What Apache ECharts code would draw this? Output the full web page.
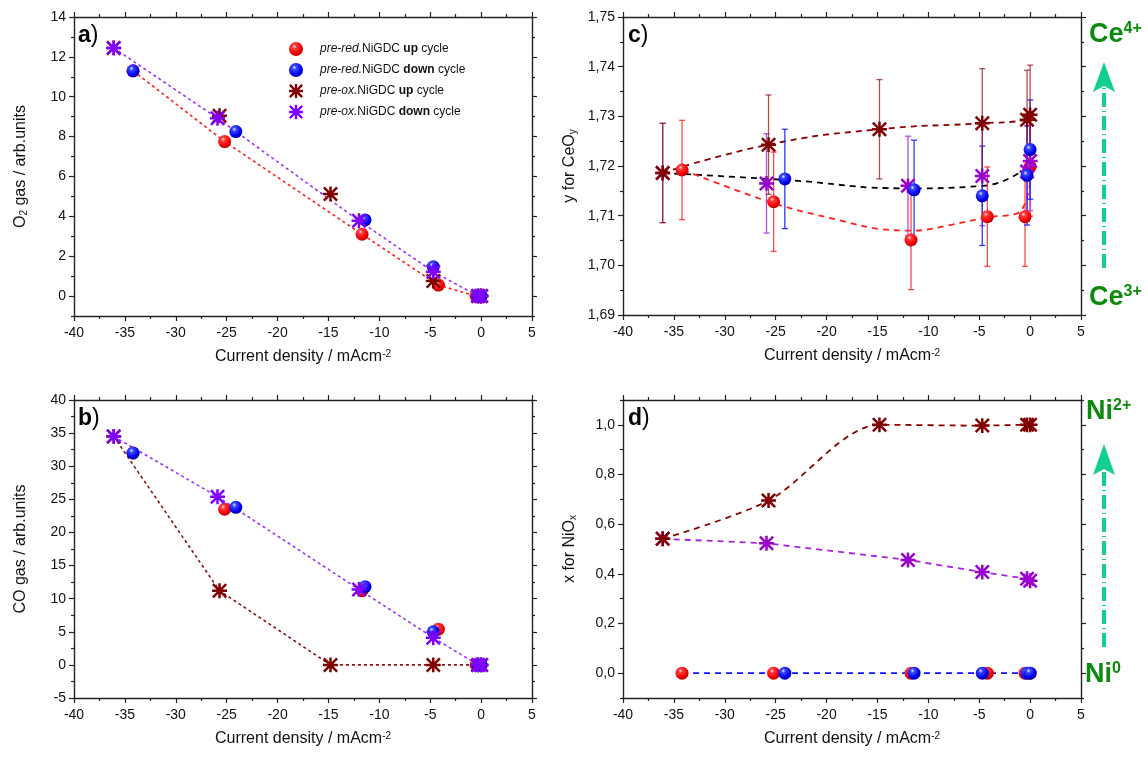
<!DOCTYPE html>
<html><head><meta charset="utf-8">
<script src="https://cdn.jsdelivr.net/npm/echarts@6/dist/echarts.min.js"></script>
<style>html,body{margin:0;padding:0;background:#fff}#chart{width:1148px;height:758px}</style>
</head><body><div id="chart"></div>
<script>
// ---------------- data ----------------
const xTicks = [-40, -35, -30, -25, -20, -15, -10, -5, 0, 5];
const xMinor = [-37.5, -32.5, -27.5, -22.5, -17.5, -12.5, -7.5, -2.5, 2.5];

// current density of every measured point (mA cm^-2)
const redX    = [0, -0.5, -4.2, -11.7, -25.2, -34.2];
const blueX   = [-34.2, -24.1, -11.4, -4.7, -0.3, 0];
const brownX  = [0, -0.3, -4.7, -14.8, -25.7, -36.1];
const purpleX = [-36.1, -25.9, -12.0, -4.7, -0.3, 0];

// a) O2 gas
const aRedY    = [0, 0, 0.55, 3.1, 7.75, 11.3];
const aBlueY   = [11.3, 8.25, 3.82, 1.47, 0, 0];
const aBrownY  = [0, 0, 0.75, 5.12, 9.05, 12.45];
const aPurpleY = [12.45, 8.92, 3.78, 1.22, 0, 0];
const aYTicks = [0, 2, 4, 6, 8, 10, 12, 14];
const aYMinor = [-1, 1, 3, 5, 7, 9, 11, 13];

// b) CO gas
const bRedY    = [0, 0, 5.4, 11.2, 23.5, 32.0];
const bBlueY   = [32.0, 23.8, 11.8, 5.0, 0, 0];
const bBrownY  = [0, 0, 0, 0, 11.2, 34.5];
const bPurpleY = [34.5, 25.4, 11.4, 4.1, 0, 0];
const bYTicks = [-5, 0, 5, 10, 15, 20, 25, 30, 35, 40];
const bYMinor = [-2.5, 2.5, 7.5, 12.5, 17.5, 22.5, 27.5, 32.5, 37.5];

// c) y for CeOy (with error bars)
const cRedY    = [1.7199, 1.7098, 1.7098, 1.7051, 1.7128, 1.7192];
const cRedErr  = [0.01, 0.01, 0.01, 0.01, 0.01, 0.01];
const cBlueY   = [null, 1.7174, 1.7152, 1.7140, 1.7181, 1.7233];
const cBlueErr = [0.01, 0.01, 0.01, 0.01, 0.01, 0.01];
const cBrownY  = [1.7303, 1.7293, 1.7286, 1.7274, 1.7243, 1.7186];
const cBrownErr = [0.01, 0.01, 0.011, 0.01, 0.01, 0.01];
const cPurpleY = [1.7186, 1.7165, 1.7160, 1.7180, 1.7189, 1.7210];
const cPurpleErr = [0.01, 0.01, 0.01, 0.01, 0.01, 0.01];
const cBlackX = [-36.05, -24.13, -11.94, -4.62, -0.05];
const cBlackY = [1.7186, 1.7172, 1.7155, 1.7160, 1.7201];
const cRedTrendX = [-34.1, -25.2, -18.2, -14.75, -11.3, -7.9, -4.2, -1.0, 0.2];
const cRedTrendY = [1.7192, 1.7125, 1.7088, 1.7073, 1.7070, 1.7081, 1.7097, 1.7108, 1.7196];
const cYTicks = [1.69, 1.70, 1.71, 1.72, 1.73, 1.74, 1.75];
const cYMinor = [1.695, 1.705, 1.715, 1.725, 1.735, 1.745];

// d) x for NiOx
const dRedY    = [0, 0, 0, 0, 0, 0];
const dBlueY   = [null, 0, 0, 0, 0, 0];
const dBrownY  = [1.0, 1.0, 0.997, 1.0, 0.695, 0.541];
const dPurpleY = [0.541, 0.523, 0.456, 0.407, 0.38, 0.372];
const dYTicks = [0, 0.2, 0.4, 0.6, 0.8, 1.0];
const dYMinor = [-0.1, 0.1, 0.3, 0.5, 0.7, 0.9, 1.1];

const seriesNames = ['pre-red.NiGDC up cycle', 'pre-red.NiGDC down cycle', 'pre-ox.NiGDC up cycle', 'pre-ox.NiGDC down cycle'];
const legendRich = {
  'pre-red.NiGDC up cycle': '{i|pre-red.}{n|NiGDC }{b|up}{n| cycle}',
  'pre-red.NiGDC down cycle': '{i|pre-red.}{n|NiGDC }{b|down}{n| cycle}',
  'pre-ox.NiGDC up cycle': '{i|pre-ox.}{n|NiGDC }{b|up}{n| cycle}',
  'pre-ox.NiGDC down cycle': '{i|pre-ox.}{n|NiGDC }{b|down}{n| cycle}'
};

// ---------------- styles ----------------
const FONT = '"Liberation Sans", Arial, Helvetica, sans-serif';
const AX = '#222';
const RED = '#ff0000', BLUE = '#0000ff', BROWN = '#800000', PURPLE_AB = '#8000ff', PURPLE_CD = '#9900cc';
const ballRed = new echarts.graphic.RadialGradient(0.38, 0.32, 0.72, [
  {offset: 0, color: '#ffe4e4'}, {offset: 0.22, color: '#ff3a3a'}, {offset: 0.7, color: '#f40000'}, {offset: 1, color: '#b00000'}]);
const ballBlue = new echarts.graphic.RadialGradient(0.38, 0.32, 0.72, [
  {offset: 0, color: '#e4e8ff'}, {offset: 0.22, color: '#3a48ff'}, {offset: 0.7, color: '#0000ee'}, {offset: 1, color: '#000099'}]);
const ASTER = 'path://M1 8.5H19V11.5H1Z M8.5 1H11.5V19H8.5Z M3.06 0.94L19.06 16.94L16.94 19.06L0.94 3.06Z M19.06 3.06L3.06 19.06L0.94 16.94L16.94 0.94Z';

const panels = [
  {grid: {left: 74, top: 17, width: 458, height: 299}, yMin: -1, yMax: 14, yTicks: aYTicks, yMinor: aYMinor,
   fmt: v => String(v), yName: 'O{sub|2} gas / arb.units', tag: 'a', tagPos: [78, 24]},
  {grid: {left: 74, top: 400, width: 458, height: 298}, yMin: -5, yMax: 40, yTicks: bYTicks, yMinor: bYMinor,
   fmt: v => String(v), yName: 'CO gas / arb.units', tag: 'b', tagPos: [78, 407]},
  {grid: {left: 623, top: 17, width: 458, height: 298}, yMin: 1.69, yMax: 1.75, yTicks: cYTicks, yMinor: cYMinor,
   fmt: v => v.toFixed(2).replace('.', ','), yName: 'y for CeO{sub|y}', tag: 'c', tagPos: [628, 24]},
  {grid: {left: 623, top: 400, width: 458, height: 298}, yMin: -0.1, yMax: 1.1, yTicks: dYTicks, yMinor: dYMinor,
   fmt: v => v.toFixed(1).replace('.', ','), yName: 'x for NiO{sub|x}', tag: 'd', tagPos: [628, 407]}
];

const grids = [], xAxes = [], yAxes = [];
const lbl = {color: '#111', fontFamily: FONT, fontSize: 14};
panels.forEach((p, gi) => {
  grids.push(Object.assign({outerBoundsMode: 'none', containLabel: false}, p.grid));
  const mk = (dim, pos, vals, len, main, showLine) => {
    const o = {
      type: 'value', gridIndex: gi, position: pos,
      min: dim === 'x' ? -40 : p.yMin, max: dim === 'x' ? 5 : p.yMax,
      axisLine: {show: showLine, onZero: false, lineStyle: {color: AX, width: 1.4}},
      axisTick: {show: true, inside: false, length: len, customValues: vals, lineStyle: {color: AX, width: 1.2}},
      axisLabel: {show: main, customValues: vals, margin: dim === 'x' ? 10 : 8, ...lbl,
        formatter: dim === 'x' ? (v => String(v)) : p.fmt},
      splitLine: {show: false}, minorTick: {show: false}, silent: true
    };
    if (main && dim === 'x') {
      o.name = 'Current density / mAcm{sup|-2}';
      o.nameLocation = 'middle'; o.nameGap = 33;
      o.nameTextStyle = {fontFamily: FONT, fontSize: 16, color: '#111',
        rich: {sup: {fontFamily: FONT, fontSize: 10, color: '#111', verticalAlign: 'top', padding: [0, 0, 5, 0]}}};
    }
    if (main && dim === 'y') {
      o.name = p.yName; o.nameLocation = 'middle'; o.nameGap = 45; o.nameRotate = 90;
      o.nameTextStyle = {fontFamily: FONT, fontSize: 16, color: '#111',
        rich: {sub: {fontFamily: FONT, fontSize: 10, color: '#111', verticalAlign: 'bottom', padding: [6, 0, 0, 0]}}};
    }
    return o;
  };
  xAxes.push(mk('x', 'bottom', xTicks, 5, true, true));
  xAxes.push(mk('x', 'bottom', xMinor, 3, false, false));
  xAxes.push(mk('x', 'top', xTicks, 5, false, true));
  xAxes.push(mk('x', 'top', xMinor, 3, false, false));
  yAxes.push(mk('y', 'left', p.yTicks, 5, true, true));
  yAxes.push(mk('y', 'left', p.yMinor, 3, false, false));
  yAxes.push(mk('y', 'right', p.yTicks, 5, false, true));
  yAxes.push(mk('y', 'right', p.yMinor, 3, false, false));
});

const series = [];
const pairs = (X, Y) => X.map((x, i) => [x, Y[i]]).filter(d => d[1] !== null);
function scatter(gi, name, X, Y, kind, color) {
  const ball = kind === 'ball';
  series.push({
    type: 'scatter', name, xAxisIndex: gi * 4, yAxisIndex: gi * 4,
    data: pairs(X, Y), symbol: ball ? 'circle' : ASTER, symbolSize: ball ? 13 : 15,
    itemStyle: {color: ball ? (color === RED ? ballRed : ballBlue) : color, opacity: 1},
    z: 10, silent: true
  });
}
function line(gi, X, Y, color, dash, width, smooth) {
  const d = pairs(X, Y).sort((u, v) => u[0] - v[0]);
  series.push({
    type: 'line', name: '_line', xAxisIndex: gi * 4, yAxisIndex: gi * 4, data: d,
    showSymbol: false, symbol: 'none', smooth: smooth,
    lineStyle: {color, type: dash, width}, z: 4, silent: true
  });
}
function errbars(gi, X, Y, E, color) {
  const d = X.map((x, i) => [x, Y[i], E[i]]).filter(v => v[1] !== null);
  series.push({
    type: 'custom', name: '_err', xAxisIndex: gi * 4, yAxisIndex: gi * 4, data: d,
    encode: {x: 0, y: 1}, z: 6, silent: true,
    renderItem: (params, api) => {
      const x = api.value(0), y = api.value(1), e = api.value(2);
      const t = api.coord([x, y + e]), b = api.coord([x, y - e]);
      const w = 3, st = {stroke: color, lineWidth: 1.3, fill: null};
      return {type: 'group', children: [
        {type: 'line', shape: {x1: t[0], y1: t[1], x2: b[0], y2: b[1]}, style: st},
        {type: 'line', shape: {x1: t[0] - w, y1: t[1], x2: t[0] + w, y2: t[1]}, style: st},
        {type: 'line', shape: {x1: b[0] - w, y1: b[1], x2: b[0] + w, y2: b[1]}, style: st}
      ]};
    }
  });
}
const DOT = [3, 3], DASH = [6, 5];

// a)
line(0, redX, aRedY, '#ff2020', DOT, 1.6, false);
line(0, purpleX, aPurpleY, '#9933ff', DOT, 1.6, false);
scatter(0, seriesNames[0], redX, aRedY, 'ball', RED);
scatter(0, seriesNames[2], brownX, aBrownY, 'ast', BROWN);
scatter(0, seriesNames[1], blueX, aBlueY, 'ball', BLUE);
scatter(0, seriesNames[3], purpleX, aPurpleY, 'ast', PURPLE_AB);
// b)
line(1, purpleX, bPurpleY, '#9933ff', DOT, 1.6, false);
line(1, brownX, bBrownY, '#8b1010', DOT, 1.6, false);
scatter(1, seriesNames[0], redX, bRedY, 'ball', RED);
scatter(1, seriesNames[2], brownX, bBrownY, 'ast', BROWN);
scatter(1, seriesNames[1], blueX, bBlueY, 'ball', BLUE);
scatter(1, seriesNames[3], purpleX, bPurpleY, 'ast', PURPLE_AB);
// c)
line(2, brownX, cBrownY, '#8b0000', DASH, 1.8, true);
line(2, cBlackX, cBlackY, '#000000', DASH, 1.8, true);
line(2, cRedTrendX, cRedTrendY, '#ff2020', DASH, 1.8, 0.35);
errbars(2, redX, cRedY, cRedErr, 'rgba(255,40,40,0.85)');
errbars(2, purpleX, cPurpleY, cPurpleErr, 'rgba(170,60,220,0.9)');
errbars(2, blueX, cBlueY, cBlueErr, 'rgba(30,30,255,0.9)');
errbars(2, brownX, cBrownY, cBrownErr, 'rgba(150,20,20,0.75)');
scatter(2, seriesNames[0], redX, cRedY, 'ball', RED);
scatter(2, seriesNames[3], purpleX, cPurpleY, 'ast', PURPLE_CD);
scatter(2, seriesNames[1], blueX, cBlueY, 'ball', BLUE);
scatter(2, seriesNames[2], brownX, cBrownY, 'ast', BROWN);
// d)
line(3, brownX, dBrownY, '#8b0000', DASH, 1.8, 0.3);
line(3, purpleX, dPurpleY, '#aa22dd', DASH, 1.8, false);
line(3, redX, dRedY, '#1010ff', DASH, 1.8, false);
scatter(3, seriesNames[0], redX, dRedY, 'ball', RED);
scatter(3, seriesNames[3], purpleX, dPurpleY, 'ast', PURPLE_CD);
scatter(3, seriesNames[1], blueX, dBlueY, 'ball', BLUE);
scatter(3, seriesNames[2], brownX, dBrownY, 'ast', BROWN);

// ---------------- annotations ----------------
const GREEN = '#0b8a0b', ARROW = '#12d08c';
const graphics = [];
panels.forEach(p => {
  graphics.push({type: 'text', x: p.tagPos[0], y: p.tagPos[1], z: 20, silent: true,
    style: {text: '{b|' + p.tag + '}{n|)}', rich: {
      b: {fontFamily: FONT, fontSize: 23, fontWeight: 'bold', fill: '#000'},
      n: {fontFamily: FONT, fontSize: 23, fill: '#000'}}}});
});
function ionLabel(x, y, base, sup) {
  graphics.push({type: 'text', x, y, z: 20, silent: true,
    style: {text: '{b|' + base + '}{s|' + sup + '}', rich: {
      b: {fontFamily: FONT, fontSize: 27, fontWeight: 'bold', fill: GREEN},
      s: {fontFamily: FONT, fontSize: 16, fontWeight: 'bold', fill: GREEN, verticalAlign: 'top'}}}});
}
ionLabel(1089, 21, 'Ce', '4+');
ionLabel(1089, 284, 'Ce', '3+');
ionLabel(1086, 398, 'Ni', '2+');
ionLabel(1085, 661, 'Ni', '0');
function arrow(cx, tip, base, bottom) {
  graphics.push({type: 'polygon', z: 20, silent: true,
    shape: {points: [[cx, tip], [cx + 11, base], [cx, base - 6], [cx - 11, base]]},
    style: {fill: ARROW}});
  graphics.push({type: 'line', z: 20, silent: true,
    shape: {x1: cx, y1: bottom, x2: cx, y2: base - 4},
    style: {stroke: ARROW, lineWidth: 4, lineDash: [14, 4, 1, 4]}});
}
arrow(1104, 62, 92, 268);
arrow(1104, 444, 475, 647);

const chart = echarts.init(document.getElementById('chart'), null, {renderer: 'canvas'});
chart.setOption({
  animation: false,
  backgroundColor: '#fff',
  grid: grids, xAxis: xAxes, yAxis: yAxes,
  legend: {
    show: true, orient: 'vertical', left: 284, top: 37, itemWidth: 26, itemHeight: 14, itemGap: 7,
    selectedMode: false, data: seriesNames,
    formatter: n => legendRich[n],
    textStyle: {fontFamily: FONT, fontSize: 12, color: '#111', padding: [0, 0, 0, 6], rich: {
      i: {fontFamily: FONT, fontSize: 12, fontStyle: 'italic', color: '#111'},
      n: {fontFamily: FONT, fontSize: 12, color: '#111'},
      b: {fontFamily: FONT, fontSize: 12, fontWeight: 'bold', color: '#111'}}}
  },
  series,
  graphic: graphics
});
</script></body></html>
